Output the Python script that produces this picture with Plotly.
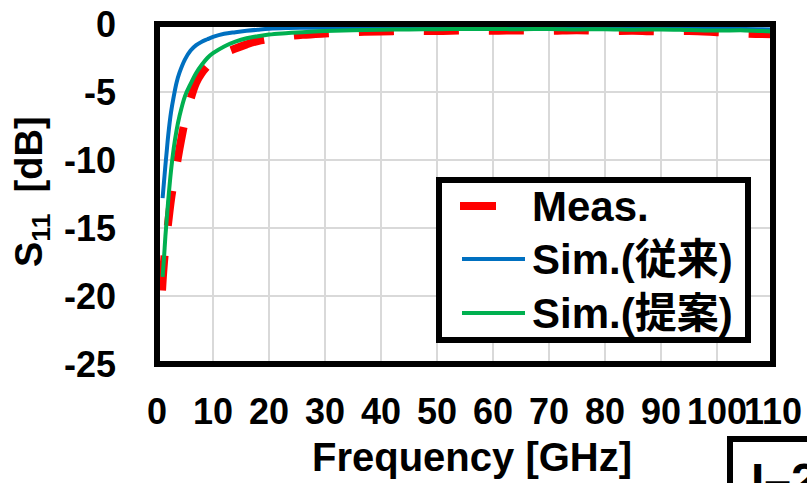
import plotly.graph_objects as go

# ---- data -------------------------------------------------------------
# Measured S11 (dB) vs frequency (GHz)
meas_freq = [0.9, 1.0, 1.25, 1.5, 2.0, 2.5, 3.0, 3.5, 4.0, 4.5, 5.0, 6.0, 7.0, 8.0,
             9.0, 10, 12, 14, 16, 18, 20, 23, 26, 30, 35, 40, 45, 50, 55, 60, 65,
             70, 75, 80, 85, 90, 95, 100, 105, 110]
meas_s11 = [-19.6, -18.9, -17.5, -16.4, -14.6, -12.9, -11.6, -10.4, -9.2, -8.1, -7.1,
            -5.5, -4.3, -3.6, -3.1, -2.7, -2.15, -1.8, -1.5, -1.25, -1.1, -0.92, -0.8,
            -0.7, -0.6, -0.55, -0.5, -0.52, -0.48, -0.5, -0.47, -0.5, -0.46, -0.52,
            -0.5, -0.55, -0.52, -0.6, -0.7, -0.75]

# Simulated S11 (dB): conventional and proposed models
sim_freq = [1.0, 1.25, 1.5, 1.75, 2.0, 2.5, 3.0, 3.5, 4.0, 5.0, 6.0, 7.0, 8.0, 9.0,
            10, 12, 14, 16, 18, 20, 23, 26, 30, 35, 40, 45, 50, 55, 60, 65, 70, 75,
            80, 85, 90, 95, 100, 105, 110]
sim_conv = [-12.8, -11.6, -10.4, -9.3, -8.2, -6.5, -5.3, -4.3, -3.6, -2.6, -1.95,
            -1.55, -1.3, -1.12, -0.95, -0.72, -0.6, -0.5, -0.42, -0.35, -0.3, -0.28,
            -0.27, -0.27, -0.28, -0.28, -0.3, -0.29, -0.3, -0.31, -0.3, -0.32, -0.31,
            -0.33, -0.32, -0.34, -0.36, -0.36, -0.4]
sim_prop = [-18.6, -17.2, -15.6, -14.3, -13.0, -10.8, -9.1, -7.8, -6.8, -5.3, -4.4,
            -3.6, -3.0, -2.5, -2.15, -1.65, -1.3, -1.05, -0.9, -0.78, -0.68, -0.6,
            -0.52, -0.46, -0.42, -0.4, -0.38, -0.36, -0.37, -0.38, -0.36, -0.4,
            -0.38, -0.42, -0.4, -0.44, -0.48, -0.47, -0.55]

x_ticks = [0, 10, 20, 30, 40, 50, 60, 70, 80, 90, 100, 110]
y_ticks = [0, -5, -10, -15, -20, -25]

legend_names = ["Meas.", "Sim.(従来)", "Sim.(提案)"]
colors = ["#ff0000", "#0070c0", "#00b050"]

# ---- layout geometry (pixels) ----------------------------------------
W, H = 807, 483
L, R, T, B = 157, 773, 24, 364
FONT = "Liberation Sans, Arial, Noto Sans CJK JP, sans-serif"


def px(xp):
    return (xp - L) / (R - L)


def py(yp):
    return (B - yp) / (B - T)


fig = go.Figure()
fig.add_trace(go.Scatter(x=meas_freq, y=meas_s11, mode="lines", name=legend_names[0],
                         line=dict(color=colors[0], width=8, dash="35px,30px", shape="spline"),
                         showlegend=False))
fig.add_trace(go.Scatter(x=sim_freq, y=sim_conv, mode="lines", name=legend_names[1],
                         line=dict(color=colors[1], width=4, shape="spline"),
                         showlegend=False))
fig.add_trace(go.Scatter(x=sim_freq, y=sim_prop, mode="lines", name=legend_names[2],
                         line=dict(color=colors[2], width=4, shape="spline"),
                         showlegend=False))

shapes = []
annotations = []

# plot frame
shapes.append(dict(type="rect", xref="paper", yref="paper", x0=0, x1=1, y0=0, y1=1,
                   line=dict(color="black", width=6), layer="above"))

# legend box
shapes.append(dict(type="rect", xref="paper", yref="paper",
                   x0=px(439), x1=px(748), y0=py(180), y1=py(340),
                   line=dict(color="black", width=6), fillcolor="white", layer="above"))
leg_rows = [206, 259, 313]
leg_segs = [(460, 496), (462, 525), (462, 525)]
leg_widths = [8, 4, 4]
for name, c, yrow, (xa, xb), w in zip(legend_names, colors, leg_rows, leg_segs, leg_widths):
    shapes.append(dict(type="line", xref="paper", yref="paper",
                       x0=px(xa), x1=px(xb), y0=py(yrow), y1=py(yrow),
                       line=dict(color=c, width=w), layer="above"))
    annotations.append(dict(text=name, xref="paper", yref="paper", x=px(530), y=py(yrow),
                            xanchor="left", yanchor="middle", showarrow=False,
                            font=dict(family=FONT, size=42, color="black", weight="bold")))

# axis titles
annotations.append(dict(text="Frequency [GHz]", xref="paper", yref="paper",
                        x=px(472), y=py(457), xanchor="center", yanchor="middle",
                        showarrow=False,
                        font=dict(family=FONT, size=40, color="black", weight="bold")))
annotations.append(dict(text="S<sub>11</sub>  [dB]", xref="paper", yref="paper",
                        x=px(32), y=py(192), xanchor="center", yanchor="middle",
                        textangle=-90, showarrow=False,
                        font=dict(family=FONT, size=38, color="black", weight="bold")))

# figure tag box at the lower right
shapes.append(dict(type="rect", xref="paper", yref="paper",
                   x0=px(730), x1=px(900), y0=py(439), y1=py(560),
                   line=dict(color="black", width=6), layer="above"))
annotations.append(dict(text="I–2", xref="paper", yref="paper", x=px(749), y=py(452),
                        xanchor="left", yanchor="top", showarrow=False,
                        font=dict(family=FONT, size=48, color="black", weight="bold")))

tickfont = dict(family=FONT, size=36, color="black", weight="bold")
fig.update_layout(
    width=W, height=H,
    margin=dict(l=L, r=W - R, t=T, b=H - B, pad=0),
    paper_bgcolor="white", plot_bgcolor="white",
    xaxis=dict(range=[0, 110], tickvals=x_ticks, ticktext=[str(v) for v in x_ticks],
               showgrid=True, gridcolor="#d9d9d9", gridwidth=2, zeroline=False,
               showline=False, ticks="", tickfont=tickfont, ticklabelstandoff=23,
               tickangle=0, automargin=False),
    yaxis=dict(range=[-25, 0], tickvals=y_ticks, ticktext=[str(v) for v in y_ticks],
               showgrid=True, gridcolor="#d9d9d9", gridwidth=2, zeroline=False,
               showline=False, ticks="", tickfont=tickfont, ticklabelstandoff=40,
               automargin=False),
    shapes=shapes, annotations=annotations,
)

fig.write_html("out.html")
